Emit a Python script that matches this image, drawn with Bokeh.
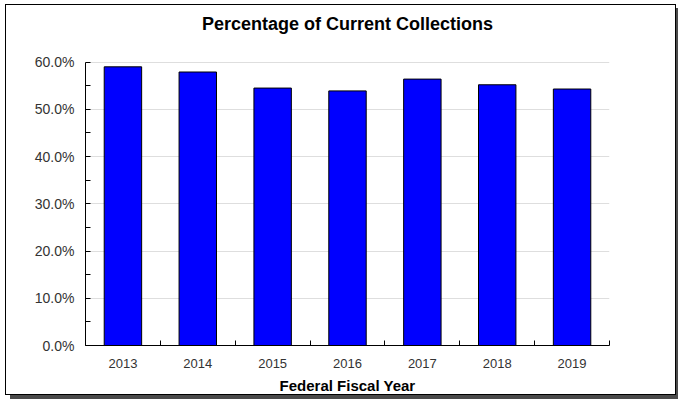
from bokeh.plotting import figure
from bokeh.models import FixedTicker, PrintfTickFormatter, ColumnDataSource, Label
from bokeh.embed import file_html
from bokeh.resources import INLINE

years = ["2013", "2014", "2015", "2016", "2017", "2018", "2019"]
pct_current = [59.0, 57.9, 54.5, 53.9, 56.4, 55.2, 54.3]
y_ticks = [0, 10, 20, 30, 40, 50, 60]
title_text = "Percentage of Current Collections"

# layout: the frame reaches up into the title area; the y axis stops at 60 %
Y_TOP = 70.5
TITLE_Y = 68.1

x_pos = [i + 0.5 for i in range(len(years))]
src = ColumnDataSource(dict(x=x_pos, top=pct_current, year=years))

p = figure(width=671, height=391, x_range=(0, len(years)), y_range=(0, Y_TOP),
           output_backend="svg", toolbar_location=None,
           min_border_left=79, min_border_right=68, min_border_top=7, min_border_bottom=49)
p.margin = (4, 0, 0, 5)
p.styles = {"border": "1px solid black", "box-shadow": "5px 4px 0 #4a4a4a"}

p.add_layout(Label(x=len(years) / 2, y=TITLE_Y, text=title_text,
                   text_align="center", text_baseline="middle",
                   text_font="Liberation Sans", text_font_size="18px",
                   text_font_style="bold", text_color="black"))

p.vbar(x="x", top="top", width=0.5, source=src, fill_color="#0000ff", line_color="black", line_width=1)

p.outline_line_color = None
p.xgrid.grid_line_color = None
p.ygrid.grid_line_color = "#dedede"

p.xaxis.ticker = FixedTicker(ticks=x_pos, minor_ticks=list(range(len(years) + 1)))
p.xaxis.major_label_overrides = {x: y for x, y in zip(x_pos, years)}
p.xaxis.major_tick_in = 0
p.xaxis.major_tick_out = 0
p.xaxis.minor_tick_in = 5
p.xaxis.minor_tick_out = 0
p.xaxis.major_label_standoff = 13
p.xaxis.major_label_text_font_size = "13px"
p.xaxis.axis_label = "Federal Fiscal Year"
p.xaxis.axis_label_text_font = "Liberation Sans"
p.xaxis.axis_label_text_font_size = "15px"
p.xaxis.axis_label_text_font_style = "bold"
p.xaxis.axis_label_text_color = "black"
p.xaxis.axis_label_standoff = 6

p.yaxis.ticker = FixedTicker(ticks=y_ticks, minor_ticks=[5, 15, 25, 35, 45, 55])
p.yaxis.bounds = (y_ticks[0], y_ticks[-1])
p.yaxis.formatter = PrintfTickFormatter(format="%.1f%%")
p.yaxis.major_tick_in = 5
p.yaxis.major_tick_out = 0
p.yaxis.minor_tick_in = 5
p.yaxis.minor_tick_out = 0
p.yaxis.major_label_standoff = 11
p.yaxis.major_label_text_font_size = "14px"

for ax in (p.xaxis, p.yaxis):
    ax.axis_line_color = "black"
    ax.major_tick_line_color = "black"
    ax.minor_tick_line_color = "black"
    ax.major_label_text_font = "Liberation Sans"
    ax.major_label_text_color = "#333333"

open("out.html", "w").write(file_html(p, INLINE))
